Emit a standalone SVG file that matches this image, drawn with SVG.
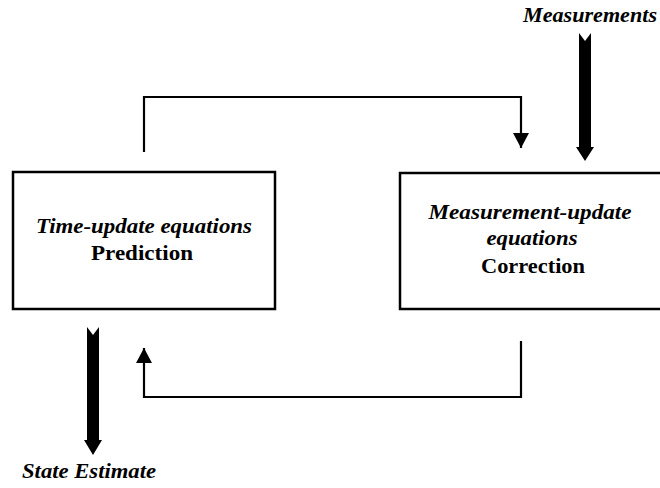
<svg xmlns="http://www.w3.org/2000/svg" width="660" height="488" viewBox="0 0 660 488">
<style>
.box{fill:#fff;stroke:#000;stroke-width:2.5}
.conn{fill:none;stroke:#000;stroke-width:2.2}
.bi{font-family:"Liberation Serif","Times New Roman",serif;font-weight:bold;font-style:italic;font-size:20px;fill:#000}
.b{font-family:"Liberation Serif","Times New Roman",serif;font-weight:bold;font-size:20px;fill:#000}
.thick{fill:#000}
</style>
<defs>
<marker id="ah" markerUnits="userSpaceOnUse" markerWidth="18" markerHeight="16" refX="15" refY="8" orient="auto">
<path d="M0,0 L15,8 L0,16 Z" fill="#000"/>
</marker>
</defs>
<rect width="660" height="488" fill="#fff"/>
<g id="time-update">
<rect class="box" x="13" y="172" width="262" height="137"/>
<text class="bi" x="144" y="233" text-anchor="middle" textLength="216" lengthAdjust="spacingAndGlyphs">Time-update equations</text>
<text class="b" x="142" y="260" text-anchor="middle" textLength="102" lengthAdjust="spacingAndGlyphs">Prediction</text>
</g>
<g id="measurement-update">
<rect class="box" x="400" y="173" width="265" height="136"/>
<text class="bi" x="530" y="219" text-anchor="middle" textLength="203" lengthAdjust="spacingAndGlyphs">Measurement-update</text>
<text class="bi" x="532" y="245" text-anchor="middle" textLength="91" lengthAdjust="spacingAndGlyphs">equations</text>
<text class="b" x="533" y="273" text-anchor="middle" textLength="104" lengthAdjust="spacingAndGlyphs">Correction</text>
</g>
<g id="measurements">
<text class="bi" x="590" y="22" text-anchor="middle" textLength="134" lengthAdjust="spacingAndGlyphs">Measurements</text>
</g>
<g id="state-estimate">
<text class="bi" x="89" y="478" text-anchor="middle" textLength="134" lengthAdjust="spacingAndGlyphs">State Estimate</text>
</g>
<g id="connectors">
<path class="conn" d="M144,152 V97 H521 V148" marker-end="url(#ah)"/>
<path class="conn" d="M521,341 V397 H144 V348" marker-end="url(#ah)"/>
<polygon class="thick" points="579,33 585,41 591,33 591,147 594,147 585,161 576,147 579,147"/>
<polygon class="thick" points="87,327 93,335 99,327 99,440 102,440 93,455 84,440 87,440"/>
</g>
</svg>
